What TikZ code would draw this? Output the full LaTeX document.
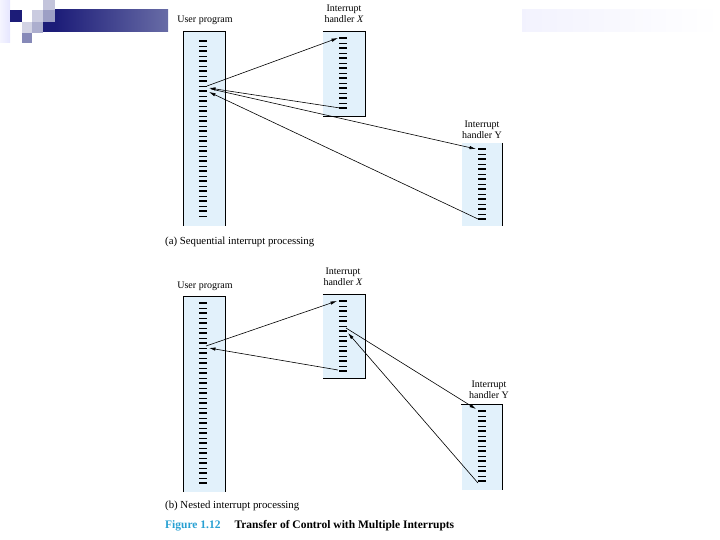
\documentclass[tikz,border=0pt]{standalone}
\usepackage{fontspec}
\setmainfont{Liberation Serif}
\usetikzlibrary{arrows.meta}
\tikzset{>={Latex[length=6.5pt,width=3.4pt]}}
\definecolor{progfill}{RGB}{226,241,251}
\definecolor{slidenavy}{RGB}{28,28,120}
\definecolor{slidelav}{RGB}{104,108,166}
\definecolor{figblue}{RGB}{40,160,210}
\tikzset{
  progbox/.style={fill=progfill, inner sep=0pt},
  boxline/.style={line width=0.8pt},
  tickthick/.style={line width=1.9pt},
  tickthin/.style={line width=0.7pt},
  flow/.style={->, line width=0.6pt},
  lbl/.style={font=\fontsize{10}{11.5}\selectfont, align=center, inner sep=0pt},
  captext/.style={font=\fontsize{10.8}{12}\selectfont, anchor=west, inner sep=0pt}
}
% column of code lines: x, first y, count
\newcommand{\progticks}[3]{%
  \foreach \i in {0,...,#3}{%
    \ifodd\i \draw[tickthin] (#1-4,#2+5*\i) -- ++(8,0);
    \else \draw[tickthick] (#1-4,#2+5*\i) -- ++(8,0); \fi}}
\begin{document}
\begin{tikzpicture}[x=1pt, y=-1pt]
  \useasboundingbox (0,0) rectangle (720,540);
  % slide decoration
  \fill[left color=blue!4, right color=blue!10] (0,0) rectangle (10,43);
  \fill[left color=slidenavy, right color=slidelav] (55,10) rectangle (168,32);
  \fill[slidenavy] (43,22) rectangle (55,32);
  \fill[slidenavy] (10,10) rectangle (22,22);
  \fill[slidelav!35] (32,10) rectangle (43,22);
  \fill[slidelav!40] (43,0) rectangle (55,10);
  \fill[slidelav!65] (43,10) rectangle (55,22);
  \fill[slidelav!30] (22,22) rectangle (32,33);
  \fill[slidelav!55] (32,22) rectangle (43,33);
  \fill[slidelav!80] (22,33) rectangle (32,43);
  \fill[left color=black!10!blue!5, right color=white] (522,10) rectangle (720,32);

  % (a) sequential
  \node[progbox, minimum width=41pt, minimum height=194pt] (userA) at (204.5,129) {};
  \node[progbox, minimum width=42pt, minimum height=84pt] (xA) at (344,74) {};
  \node[progbox, minimum width=41pt, minimum height=83pt] (yA) at (482,184.5) {};
  \draw[boxline] (userA.south west) -- (userA.north west) -- (userA.north east) -- (userA.south east);
  \draw[boxline] (xA.north west) -- (xA.north east) -- (xA.south east) -- (xA.south west);
  \draw[boxline] (yA.north east) -- (yA.south east);
  \progticks{203}{41}{35}
  \progticks{343}{38}{14}
  \progticks{482}{149}{14}
  \node[lbl] (userAlbl) at (205,20) {User program};
  \node[lbl] (xAlbl) at (344,14) {Interrupt\\handler \textit{X}};
  \node[lbl] (yAlbl) at (482,130) {Interrupt\\handler Y};
  \coordinate (ua1) at (207,86);
  \coordinate (ua2) at (209,88);
  \coordinate (ua3) at (211,89);
  \coordinate (ua4) at (209,92);
  \coordinate (xa1) at (338,38);
  \coordinate (xa2) at (340,108);
  \coordinate (ya1) at (476,149);
  \coordinate (ya2) at (478,219);
  \draw[flow] (ua1) -- (xa1);
  \draw[flow] (xa2) -- (ua2);
  \draw[flow] (ua3) -- (ya1);
  \draw[flow] (ya2) -- (ua4);
  \node[captext] (capA) at (165,242) {(a) Sequential interrupt processing};

  % (b) nested
  \node[progbox, minimum width=41pt, minimum height=195pt] (userB) at (204.5,394.5) {};
  \node[progbox, minimum width=42pt, minimum height=83pt] (xB) at (344,336.5) {};
  \node[progbox, minimum width=41pt, minimum height=85pt] (yB) at (482,447.5) {};
  \draw[boxline] (userB.south west) -- (userB.north west) -- (userB.north east) -- (userB.south east);
  \draw[boxline] (xB.north west) -- (xB.north east) -- (xB.south east) -- (xB.south west);
  \draw[boxline] (yB.north west) -- (yB.north east) -- (yB.south east);
  \progticks{203}{303}{36}
  \progticks{343}{301}{14}
  \progticks{482}{411}{14}
  \node[lbl] (userBlbl) at (205,286) {User program};
  \node[lbl] (xBlbl) at (343,277) {Interrupt\\handler \textit{X}};
  \node[lbl] (yBlbl) at (489,390) {Interrupt\\handler Y};
  \coordinate (ub1) at (206,346);
  \coordinate (ub2) at (209,348);
  \coordinate (xb1) at (337,301);
  \coordinate (xb2) at (338,370);
  \coordinate (xb3) at (346,328);
  \coordinate (xb4) at (348,333);
  \coordinate (yb1) at (476,409);
  \coordinate (yb2) at (478,483);
  \draw[flow] (ub1) -- (xb1);
  \draw[flow] (xb2) -- (ub2);
  \draw[flow] (xb3) -- (yb1);
  \draw[flow] (yb2) -- (xb4);
  \node[captext] (capB) at (165,506) {(b) Nested interrupt processing};
  \node[captext, font=\fontsize{11.5}{13}\selectfont\bfseries] (fig) at (165,526)
    {\textcolor{figblue}{Figure 1.12}\hspace{14pt}Transfer of Control with Multiple Interrupts};
\end{tikzpicture}
\end{document}
